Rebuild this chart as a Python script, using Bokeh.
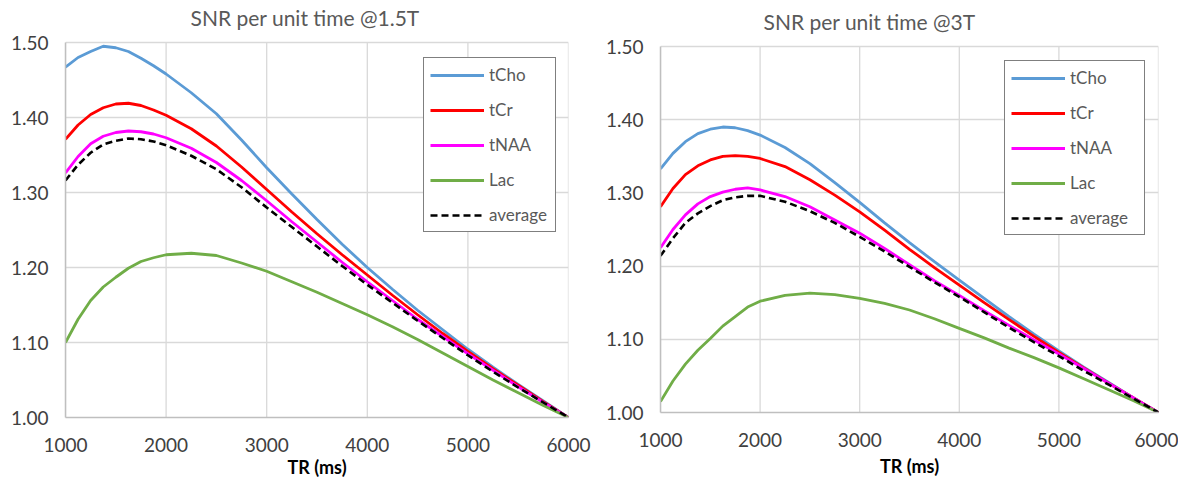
from bokeh.plotting import figure
from bokeh.layouts import row
from bokeh.models import Range1d, FixedTicker, NumeralTickFormatter, Label
from bokeh.embed import file_html
from bokeh.resources import INLINE

# ---------------- data ----------------
TR = [1000, 1125, 1250, 1375, 1500, 1625, 1750, 1875, 2000, 2250, 2500, 2750,
      3000, 3250, 3500, 3750, 4000, 4250, 4500, 4750, 5000, 5250, 5500, 5750, 6000]

# 1.5 T
tcho_15 = [1.467, 1.480, 1.488, 1.495, 1.493, 1.488, 1.479, 1.469, 1.458, 1.433, 1.405, 1.370,
           1.333, 1.298, 1.264, 1.231, 1.200, 1.171, 1.143, 1.117, 1.091, 1.067, 1.044, 1.022, 1.000]
tcr_15 = [1.371, 1.390, 1.404, 1.413, 1.418, 1.419, 1.416, 1.410, 1.403, 1.385, 1.362, 1.334,
          1.304, 1.274, 1.245, 1.217, 1.190, 1.163, 1.137, 1.112, 1.088, 1.065, 1.043, 1.021, 1.000]
tnaa_15 = [1.326, 1.348, 1.365, 1.375, 1.380, 1.382, 1.381, 1.378, 1.373, 1.359, 1.340, 1.316,
           1.289, 1.261, 1.234, 1.207, 1.181, 1.156, 1.131, 1.108, 1.085, 1.063, 1.041, 1.020, 1.000]
lac_15 = [1.100, 1.131, 1.156, 1.174, 1.187, 1.199, 1.208, 1.213, 1.217, 1.219, 1.216, 1.206,
          1.195, 1.181, 1.167, 1.152, 1.137, 1.121, 1.104, 1.086, 1.068, 1.050, 1.033, 1.016, 1.000]
avg_15 = [1.316, 1.337, 1.353, 1.364, 1.369, 1.372, 1.371, 1.368, 1.363, 1.349, 1.331, 1.307,
          1.280, 1.254, 1.228, 1.202, 1.177, 1.153, 1.129, 1.106, 1.083, 1.061, 1.040, 1.020, 1.000]

# 3 T
tcho_3 = [1.333, 1.354, 1.370, 1.381, 1.387, 1.390, 1.389, 1.385, 1.379, 1.362, 1.340, 1.314,
          1.287, 1.259, 1.232, 1.206, 1.181, 1.156, 1.131, 1.107, 1.084, 1.062, 1.041, 1.020, 1.000]
tcr_3 = [1.281, 1.306, 1.325, 1.337, 1.345, 1.350, 1.351, 1.350, 1.347, 1.336, 1.318, 1.297,
         1.274, 1.249, 1.223, 1.198, 1.174, 1.150, 1.127, 1.104, 1.082, 1.061, 1.040, 1.020, 1.000]
tnaa_3 = [1.225, 1.250, 1.270, 1.285, 1.295, 1.301, 1.305, 1.307, 1.304, 1.295, 1.281, 1.263,
          1.245, 1.224, 1.202, 1.180, 1.160, 1.139, 1.119, 1.099, 1.080, 1.060, 1.040, 1.020, 1.000]
lac_3 = [1.015, 1.043, 1.066, 1.085, 1.101, 1.118, 1.131, 1.144, 1.152, 1.160, 1.163, 1.161,
         1.156, 1.149, 1.140, 1.128, 1.115, 1.102, 1.088, 1.075, 1.061, 1.046, 1.031, 1.016, 1.000]
avg_3 = [1.214, 1.238, 1.259, 1.272, 1.282, 1.290, 1.294, 1.296, 1.296, 1.288, 1.275, 1.259,
         1.240, 1.220, 1.199, 1.178, 1.158, 1.137, 1.116, 1.096, 1.077, 1.057, 1.038, 1.019, 1.000]

series_names = ["tCho", "tCr", "tNAA", "Lac", "average"]
x_ticks = [1000, 2000, 3000, 4000, 5000, 6000]
y_ticks = [1.0, 1.1, 1.2, 1.3, 1.4, 1.5]
titles = ["SNR per unit time @1.5T", "SNR per unit time @3T"]
x_label = "TR (ms)"

colors = ["#5B9BD5", "#FF0000", "#FF00FF", "#70AD47", "#000000"]
FONT = "Lato"
Y_MIN, Y_MAX = 1.0, 1.5
X_MIN, X_MAX = 1000, 6000


def make_panel(title, ys, frame_w, frame_h, y_top, bl, bb, br, legend_xy, label_w,
               title_xy, xlab_standoff):
    # the frame reaches up to the top of the canvas; the space above 1.50 holds the title
    p = figure(frame_width=frame_w, frame_height=frame_h,
               min_border_left=bl, min_border_top=0, min_border_bottom=bb, min_border_right=br,
               x_range=Range1d(X_MIN, X_MAX), y_range=Range1d(Y_MIN, y_top),
               output_backend="svg", toolbar_location=None, outline_line_color=None,
               background_fill_color="white", border_fill_color="white")

    p.add_layout(Label(x=title_xy[0], y=title_xy[1], text=title, text_font=FONT,
                       text_font_size="21px", text_color="#595959",
                       text_align="left", text_baseline="middle"))

    for ax in (p.xaxis[0], p.yaxis[0]):
        ax.axis_line_color = "#BFBFBF"
        ax.axis_line_width = 1.5
        ax.major_tick_line_color = None
        ax.minor_tick_line_color = None
        ax.major_tick_out = 0
        ax.major_tick_in = 0
        ax.major_label_text_font = FONT
        ax.major_label_text_font_size = "19px"
        ax.major_label_text_color = "#404040"
    p.xaxis.ticker = FixedTicker(ticks=x_ticks)
    p.yaxis.ticker = FixedTicker(ticks=y_ticks)
    p.yaxis.bounds = (Y_MIN, Y_MAX)
    p.yaxis.formatter = NumeralTickFormatter(format="0.00")
    p.xaxis.major_label_standoff = 20
    p.yaxis.major_label_standoff = 17

    p.xaxis.axis_label = x_label
    p.xaxis.axis_label_text_font = FONT
    p.xaxis.axis_label_text_font_size = "18px"
    p.xaxis.axis_label_text_font_style = "bold"
    p.xaxis.axis_label_text_color = "#000000"
    p.xaxis.axis_label_standoff = xlab_standoff

    # horizontal grid from the y ticks; vertical grid only up to 1.50
    p.ygrid.ticker = FixedTicker(ticks=y_ticks)
    p.ygrid.grid_line_color = "#D9D9D9"
    p.ygrid.grid_line_width = 1.3
    p.xgrid.visible = False
    p.segment(x0=x_ticks, y0=[Y_MIN] * len(x_ticks), x1=x_ticks, y1=[Y_MAX] * len(x_ticks),
              line_color="#D9D9D9", line_width=1.3, level="underlay")

    for name, y, c in zip(series_names, ys, colors):
        if name == "average":
            p.line(TR, y, line_color=c, line_width=2.6, line_dash="7 4", legend_label=name)
        else:
            p.line(TR, y, line_color=c, line_width=2.8, legend_label=name)

    lg = p.legend[0]
    lg.location = legend_xy
    lg.border_line_color = "black"
    lg.border_line_width = 1.5
    lg.background_fill_color = "white"
    lg.background_fill_alpha = 1.0
    lg.label_text_font = FONT
    lg.label_text_font_size = "17px"
    lg.label_text_color = "#595959"
    lg.glyph_width = 54
    lg.glyph_height = 20
    lg.label_height = 20
    lg.label_width = label_w
    lg.label_standoff = 5
    lg.spacing = 14
    lg.padding = 6
    lg.margin = 0
    return p


# left: 1.00 at y=417, 75 px per 0.1 ; right: 1.00 at y=412, 73.2 px per 0.1
p1 = make_panel(titles[0], [tcho_15, tcr_15, tnaa_15, lac_15, avg_15],
                503, 417, 1.0 + 417 / 750, 65, 61, 24, (358, 185), 60,
                (2243, 1.0 + (417 - 17) / 750), 1)
p2 = make_panel(titles[1], [tcho_3, tcr_3, tnaa_3, lac_3, avg_3],
                498, 412, 1.0 + 412 / 732, 68, 61, 20, (344, 177), 68,
                (2034, 1.0 + (412 - 21) / 732), 5)

layout = row(p1, p2)
open("out.html", "w").write(file_html(layout, INLINE))
